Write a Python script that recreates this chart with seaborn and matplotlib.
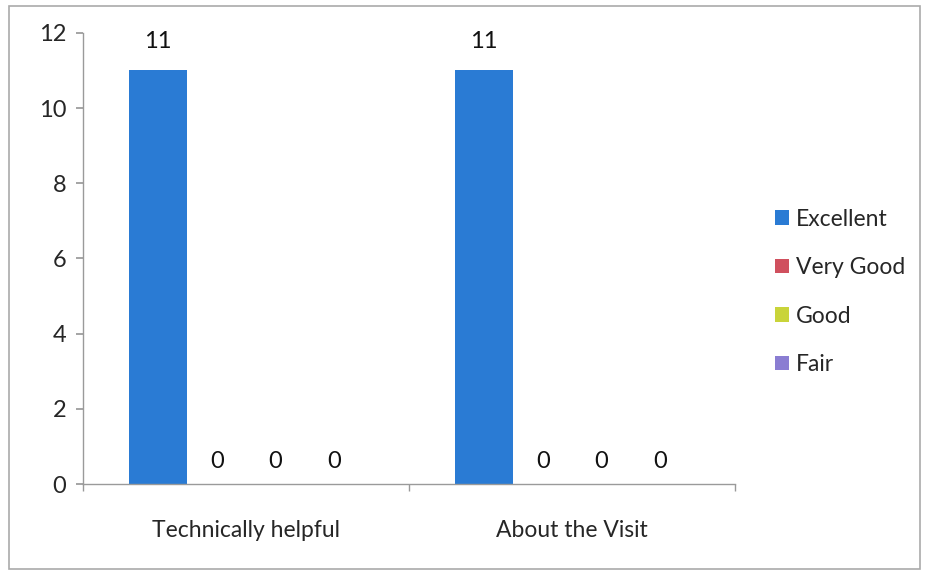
import matplotlib
matplotlib.use("Agg")
import matplotlib.pyplot as plt
import seaborn as sns
import pandas as pd
from matplotlib.patches import Rectangle

categories = ["Technically helpful", "About the Visit"]
ratings = ["Excellent", "Very Good", "Good", "Fair"]
excellent = [11, 11]
very_good = [0, 0]
good = [0, 0]
fair = [0, 0]
colors = ["#2a7bd4", "#d0505e", "#c9d43a", "#8a7dd2"]
yticks = [0, 2, 4, 6, 8, 10, 12]

rows = []
for i, c in enumerate(categories):
    for r, vals in zip(ratings, [excellent, very_good, good, fair]):
        rows.append({"Category": c, "Rating": r, "Count": vals[i]})
df = pd.DataFrame(rows)

sns.set_theme(style="white")
plt.rcParams["font.family"] = ["Lato", "DejaVu Sans"]

fig = plt.figure(figsize=(9.29, 5.78), dpi=100)
ax = fig.add_axes([0.0893, 0.1626, 0.702, 0.7805])

sns.barplot(data=df, x="Category", y="Count", hue="Rating", hue_order=ratings,
            palette=colors, width=0.72, ax=ax, saturation=1, legend=True,
            edgecolor="none", errorbar=None)

for cont in ax.containers:
    for bar, v in zip(cont, cont.datavalues):
        o = 13 if v > 0 else 9
        ax.annotate(f"{int(v)}", (bar.get_x() + bar.get_width() / 2, bar.get_height()),
                    xytext=(0, o), textcoords="offset points", ha="center", va="bottom",
                    fontsize=17, color="#111111")

ax.set_ylim(0, 12)
ax.set_yticks(yticks)
ax.set_xlim(-0.5, 1.5)
ax.set_xlabel("")
ax.set_ylabel("")
ax.tick_params(axis="y", labelsize=17, length=5, direction="out", color="#999999", left=True, pad=7)
ax.tick_params(axis="x", labelsize=16.5, length=0, pad=26)
ax.set_xticks([-0.5, 0.5, 1.5], minor=True)
ax.tick_params(axis="x", which="minor", length=5, direction="out", color="#999999", bottom=True)
for s in ["top", "right"]:
    ax.spines[s].set_visible(False)
for s in ["left", "bottom"]:
    ax.spines[s].set_color("#9a9a9a")
    ax.spines[s].set_linewidth(1.0)

leg = ax.legend(loc="center left", bbox_to_anchor=(1.03, 0.426), frameon=False,
                fontsize=16.5, labelspacing=1.2, handlelength=0.6, handleheight=0.6,
                handletextpad=0.3)

fig.patches.append(Rectangle((0.01, 0.015), 0.98, 0.975, transform=fig.transFigure,
                             fill=False, edgecolor="#aaaaaa", linewidth=1.2))

fig.savefig("out.png", dpi=100)
